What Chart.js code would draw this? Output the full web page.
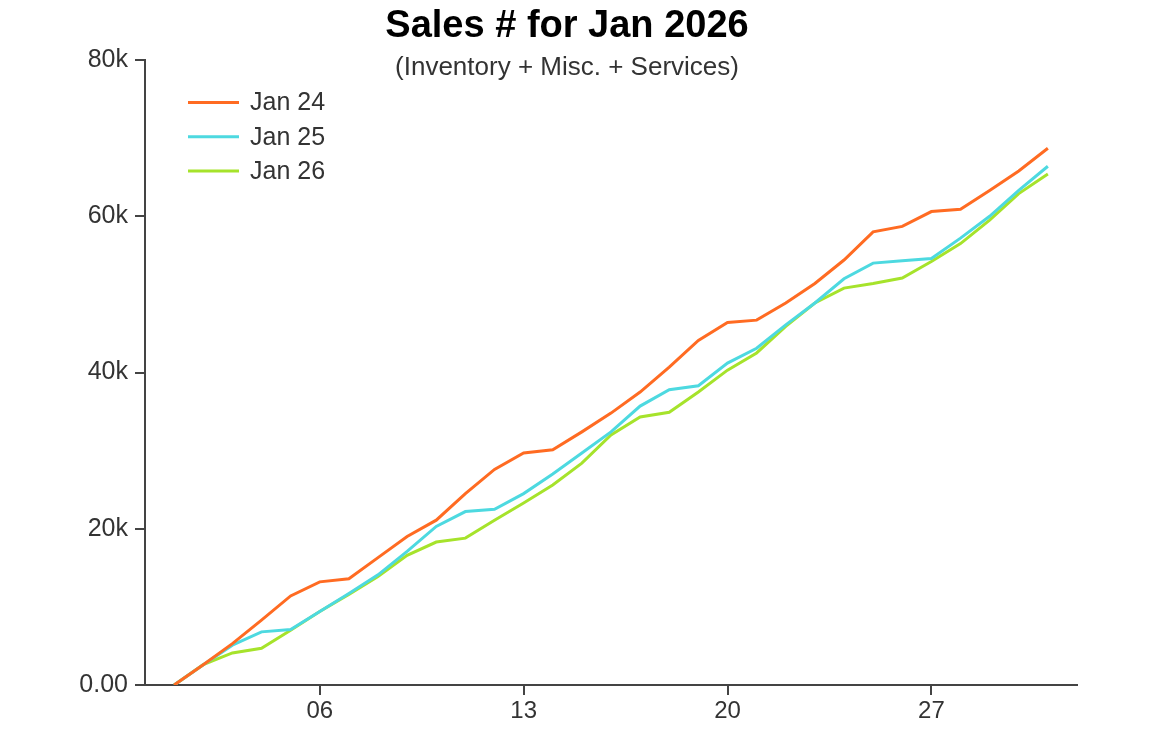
<!DOCTYPE html>
<html>
<head>
<meta charset="utf-8">
<script src="https://cdn.jsdelivr.net/npm/chart.js@4.4.1/dist/chart.umd.min.js"></script>
<style>
  html, body { margin: 0; padding: 0; background: #ffffff; }
  #wrap { width: 1152px; height: 750px; }
</style>
</head>
<body>
<div id="wrap"><canvas id="c" width="1152" height="750"></canvas></div>
<script>
// ---- data ----
const days = [1,2,3,4,5,6,7,8,9,10,11,12,13,14,15,16,17,18,19,20,21,22,23,24,25,26,27,28,29,30,31];
const seriesLabels = ['Jan 24', 'Jan 25', 'Jan 26'];
const jan24 = [0,2600,5300,8300,11400,13200,13600,16300,19000,21100,24500,27600,29700,30100,32400,34800,37500,40700,44100,46400,46700,48900,51400,54400,58000,58700,60600,60900,63300,65800,68700];
const jan25 = [0,2600,5100,6800,7100,9400,11700,14100,17100,20300,22200,22500,24500,27000,29700,32400,35700,37800,38300,41200,43100,46100,48900,52000,54000,54300,54600,57200,60000,63300,66400];
const jan26 = [0,2600,4100,4700,7000,9400,11600,13900,16600,18300,18800,21100,23300,25600,28400,32000,34300,34900,37500,40300,42500,45900,48900,50800,51400,52100,54200,56500,59500,62900,65400];
const xTickDays = [6,13,20,27];
const yTickValues = [0,20000,40000,60000,80000];
const yTickLabels = ['0.00','20k','40k','60k','80k'];
const titleText = 'Sales # for Jan 2026';
const subtitleText = '(Inventory + Misc. + Services)';

const colors = ['#ff6b22', '#4dd9e0', '#a6e32b'];
const FONT = "'Liberation Sans', Arial, Helvetica, sans-serif";
const axisColor = '#444444';

const toPoints = arr => days.map((d, i) => ({x: d, y: arr[i]}));

const insideLegend = {
  id: 'insideLegend',
  afterDraw(chart) {
    const ctx = chart.ctx;
    const ca = chart.chartArea;
    const x0 = ca.left + 43;
    const y0 = ca.top + 42.5;
    const step = 34.3;
    ctx.save();
    chart.data.datasets.forEach((ds, i) => {
      const y = y0 + i * step;
      ctx.beginPath();
      ctx.strokeStyle = ds.borderColor;
      ctx.lineWidth = 3;
      ctx.lineCap = 'butt';
      ctx.moveTo(x0, y);
      ctx.lineTo(x0 + 51, y);
      ctx.stroke();
      ctx.fillStyle = '#333333';
      ctx.font = '25px ' + FONT;
      ctx.textBaseline = 'middle';
      ctx.textAlign = 'left';
      ctx.fillText(ds.label, x0 + 62, y + 1);
    });
    ctx.restore();
  }
};

new Chart(document.getElementById('c'), {
  type: 'line',
  data: {
    datasets: [
      {label: seriesLabels[0], data: toPoints(jan24), borderColor: colors[0], backgroundColor: colors[0]},
      {label: seriesLabels[1], data: toPoints(jan25), borderColor: colors[1], backgroundColor: colors[1]},
      {label: seriesLabels[2], data: toPoints(jan26), borderColor: colors[2], backgroundColor: colors[2]}
    ]
  },
  options: {
    responsive: false,
    animation: false,
    devicePixelRatio: 1,
    layout: { padding: { left: 57, right: 75, top: 0, bottom: 0 } },
    elements: {
      line: { borderWidth: 3, tension: 0, fill: false },
      point: { radius: 0, hoverRadius: 0 }
    },
    plugins: {
      legend: { display: false },
      tooltip: { enabled: false },
      title: {
        display: true,
        text: titleText,
        color: '#000000',
        font: { family: FONT, size: 38, weight: 'bold', lineHeight: 1.2 },
        padding: { top: 4.2, bottom: 0 }
      },
      subtitle: {
        display: true,
        text: subtitleText,
        color: '#333333',
        font: { family: FONT, size: 26, weight: 'normal', lineHeight: 1.2 },
        padding: { top: 2.1, bottom: -23.1 }
      }
    },
    scales: {
      x: {
        type: 'linear',
        min: 0,
        max: 32,
        afterFit: s => { s.height = 65; },
        afterBuildTicks: s => { s.ticks = xTickDays.map(v => ({value: v})); },
        grid: { display: true, drawOnChartArea: false, drawTicks: true, tickLength: 10, color: axisColor, lineWidth: 2 },
        border: { display: true, color: axisColor, width: 2 },
        ticks: {
          color: '#333333',
          font: { family: FONT, size: 24 },
          padding: 2,
          maxRotation: 0,
          autoSkip: false,
          callback: v => String(v).padStart(2, '0')
        }
      },
      y: {
        type: 'linear',
        min: 0,
        max: 80000,
        afterFit: s => { s.width = 88; },
        afterBuildTicks: s => { s.ticks = yTickValues.map(v => ({value: v})); },
        grid: { display: true, drawOnChartArea: false, drawTicks: true, tickLength: 10, color: axisColor, lineWidth: 2 },
        border: { display: true, color: axisColor, width: 2 },
        ticks: {
          color: '#333333',
          font: { family: FONT, size: 25 },
          padding: 7,
          autoSkip: false,
          callback: v => { const i = yTickValues.indexOf(v); return i >= 0 ? yTickLabels[i] : ''; }
        }
      }
    }
  },
  plugins: [insideLegend]
});
</script>
</body>
</html>
